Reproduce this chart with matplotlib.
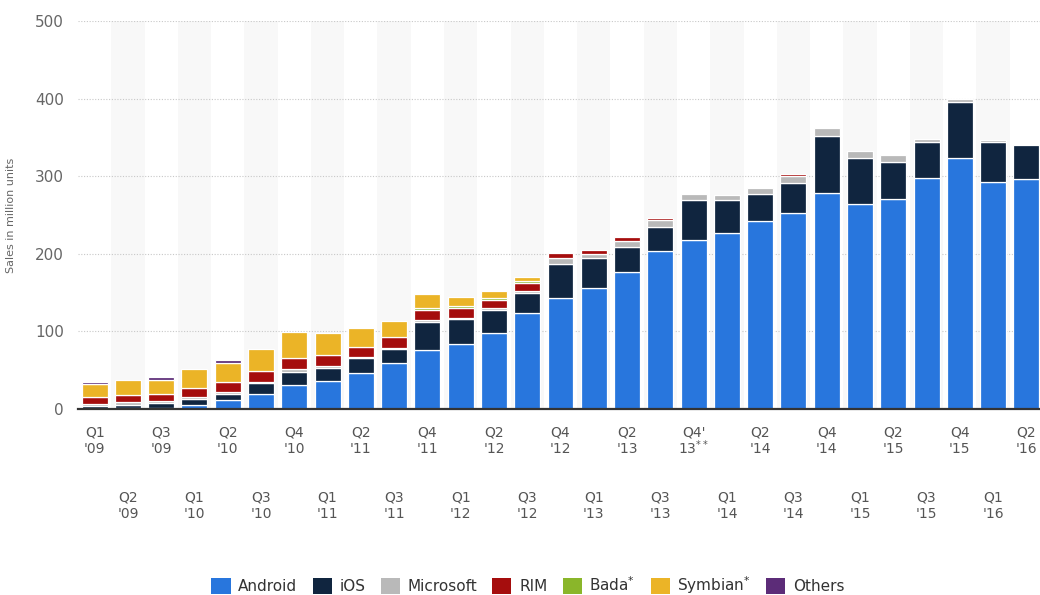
import matplotlib
matplotlib.use("Agg")
import matplotlib.pyplot as plt
from matplotlib.patches import Patch
import numpy as np

quarters = ["Q1\n'09", "Q2\n'09", "Q3\n'09", "Q1\n'10", "Q2\n'10", "Q3\n'10", "Q4\n'10",
            "Q1\n'11", "Q2\n'11", "Q3\n'11", "Q4\n'11", "Q1\n'12", "Q2\n'12", "Q3\n'12",
            "Q4\n'12", "Q1\n'13", "Q2\n'13", "Q3\n'13", "Q4'\n13$^{**}$", "Q1\n'14", "Q2\n'14",
            "Q3\n'14", "Q4\n'14", "Q1\n'15", "Q2\n'15", "Q3\n'15", "Q4\n'15", "Q1\n'16", "Q2\n'16"]

android = [0.5, 0.8, 1.4, 4.7, 11.6, 19.5, 30.5, 36.1, 46.4, 59.3, 75.6, 83.3, 98.0, 123.3, 143.0,
           156.3, 176.1, 203.6, 217.8, 226.8, 241.8, 253.0, 278.3, 263.8, 270.6, 298.1, 323.9, 292.9, 296.8]
ios = [3.0, 4.0, 6.3, 8.0, 8.0, 13.5, 17.2, 16.3, 18.7, 17.8, 36.7, 32.4, 29.2, 25.7, 43.9,
       37.9, 32.7, 30.5, 51.1, 42.1, 35.7, 37.8, 73.9, 60.1, 48.1, 45.5, 72.1, 50.7, 43.0]
microsoft = [3.0, 4.0, 2.2, 3.0, 2.2, 2.0, 3.4, 3.4, 1.5, 1.5, 2.0, 2.0, 3.4, 3.5, 7.3,
             5.5, 7.2, 9.0, 8.6, 6.4, 6.9, 9.0, 10.3, 8.2, 8.2, 4.7, 3.1, 3.0, 0.0]
rim = [9.5, 9.5, 9.5, 11.0, 12.5, 13.4, 15.0, 14.2, 13.7, 14.6, 13.3, 12.0, 9.4, 9.9, 7.2,
       5.6, 5.6, 3.4, 0, 0, 0, 3.0, 0, 0, 0, 0, 0, 0, 0]
bada = [0, 0, 0, 0, 0, 0, 0, 0, 0, 0, 2.6, 3.0, 2.6, 3.0, 0,
        0, 0, 0, 0, 0, 0, 0, 0, 0, 0, 0, 0, 0, 0]
symbian = [16.5, 19.1, 18.5, 25.0, 25.0, 29.0, 32.6, 27.5, 24.5, 20.6, 18.0, 12.0, 9.4, 4.6, 0,
           0, 0, 0, 0, 0, 0, 0, 0, 0, 0, 0, 0, 0, 0]
others = [2.5, 0, 3.0, 0, 3.4, 0, 0, 0, 0, 0, 0, 0, 0, 0, 0,
          0, 0, 0, 0, 0, 0, 0, 0, 0, 0, 0, 0, 0, 0]

series_names = ["Android", "iOS", "Microsoft", "RIM", "Bada$^{*}$", "Symbian$^{*}$", "Others"]
series_values = [android, ios, microsoft, rim, bada, symbian, others]
colors = ["#2876dd", "#10253f", "#b9b9b9", "#a50d0d", "#8ab62a", "#ebb427", "#5c2c78"]

fig = plt.figure(figsize=(10.4, 5.95), dpi=100)
ax = fig.add_axes([78 / 1040, 1 - 409 / 595, 965 / 1040, 388 / 595])

n = len(quarters)
x = np.arange(n)

# alternating background bands
for i in range(1, n, 2):
    ax.axvspan(i - 0.5, i + 0.5, color="#f8f8f8", zorder=0, lw=0)

bottom = np.zeros(n)
for name, vals, c in zip(series_names, series_values, colors):
    v = np.array(vals, dtype=float)
    m = v > 0
    ax.bar(x[m], v[m], bottom=bottom[m], width=0.78, color=c, edgecolor="white",
           linewidth=0.9, zorder=3)
    bottom += v

ax.set_xlim(-0.5, n - 0.5)
ax.set_ylim(0, 500)
ax.set_yticks([0, 100, 200, 300, 400, 500])
for yv in [100, 200, 300, 400, 500]:
    ax.axhline(yv, color="#c8c8c8", lw=0.8, ls=(0, (1, 1.5)), zorder=1)

for s in ["top", "right", "left"]:
    ax.spines[s].set_visible(False)
ax.spines["bottom"].set_color("#333333")
ax.spines["bottom"].set_linewidth(1.6)
ax.spines["bottom"].set_zorder(5)

ax.tick_params(axis="y", length=0, pad=10, labelsize=11, labelcolor="#666666")
ax.tick_params(axis="x", length=0, pad=12, labelsize=10, labelcolor="#555555")
ax.set_xticks(x)
ax.set_xticklabels(quarters, linespacing=1.25)
for i, lab in enumerate(ax.get_xticklabels()):
    if i % 2 == 1:
        lab.set_y(-65 / 388)
    if "$" in lab.get_text():
        lab.set_linespacing(0.95)

ax.set_ylabel("Sales in million units", fontsize=8, color="#666666", labelpad=14)

handles = [Patch(facecolor=c, edgecolor="none") for c in colors]
fig.legend(handles, series_names, loc="center", bbox_to_anchor=(528 / 1040, 1 - 585 / 595),
           ncol=7, frameon=False, fontsize=11, handlelength=1.25, handleheight=1.25,
           handletextpad=0.5, columnspacing=1.0, labelcolor="#333333")

fig.savefig("out.png", dpi=100)
